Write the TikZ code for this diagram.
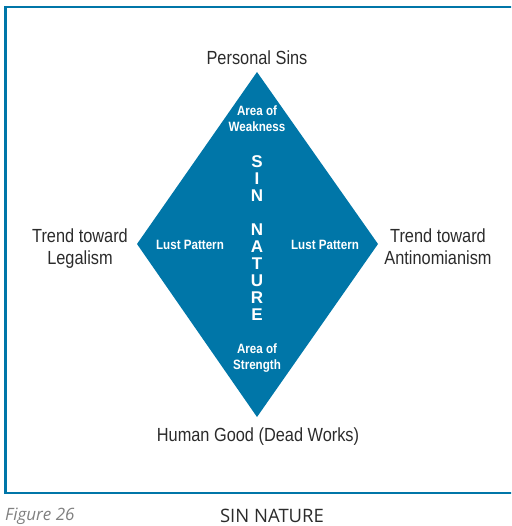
\documentclass[tikz,border=0pt]{standalone}
\usepackage{fontspec}
\setmainfont[FakeStretch=0.86]{Liberation Sans}
\newfontfamily\boldwide{Liberation Sans}
\newfontfamily\capfont{Open Sans}
\definecolor{sinblue}{HTML}{0076A8}
\definecolor{txt}{HTML}{2B2B2B}
\begin{document}
\begin{tikzpicture}[x=1pt,y=-1pt,
  outer/.style={text=txt,font=\fontsize{19}{22}\selectfont,align=center,inner sep=0pt},
  inner/.style={text=white,font=\fontsize{13.5}{16}\selectfont\bfseries,align=center,inner sep=0pt},
  letter/.style={text=white,font=\boldwide\fontsize{17}{17}\selectfont\bfseries,inner sep=0pt}]
\useasboundingbox (0,0) rectangle (511,526);
\begin{scope}
\clip (0,0) rectangle (511,526);
\draw[sinblue,line width=2.5pt] (5.5,7) rectangle (530,493);
\end{scope}
\coordinate (T) at (257,72);
\coordinate (B) at (257,417);
\coordinate (L) at (137,244);
\coordinate (R) at (378,244);
\fill[sinblue] (T) -- (R) -- (B) -- (L) -- cycle;
\node[outer] (ps) at (257,58) {Personal Sins};
\node[outer] (hg) at (258,437) {Human Good (Dead Works)};
\node[outer] (leg) at (80,249) {Trend toward\\Legalism};
\node[outer] (ant) at (438,247) {Trend toward\\Antinomianism};
\node[inner] (aw) at (257,119) {Area of\\Weakness};
\node[inner] (as) at (257,358) {Area of\\Strength};
\node[inner] (lp1) at (190,245) {Lust Pattern};
\node[inner] (lp2) at (325,245) {Lust Pattern};
\foreach \l/\i in {S/0,I/1,N/2,N/4,A/5,T/6,U/7,R/8,E/9}
  \node[letter] (l\i) at (257,{162+17*\i}) {\l};
\node[text=gray,font=\capfont\itshape\fontsize{17}{18}\selectfont,anchor=west,inner sep=0pt] (fig) at (5,516) {Figure 26};
\node[text=txt,font=\capfont\fontsize{18.5}{20}\selectfont,inner sep=0pt] (cap) at (272,516) {SIN NATURE};
\end{tikzpicture}
\end{document}
